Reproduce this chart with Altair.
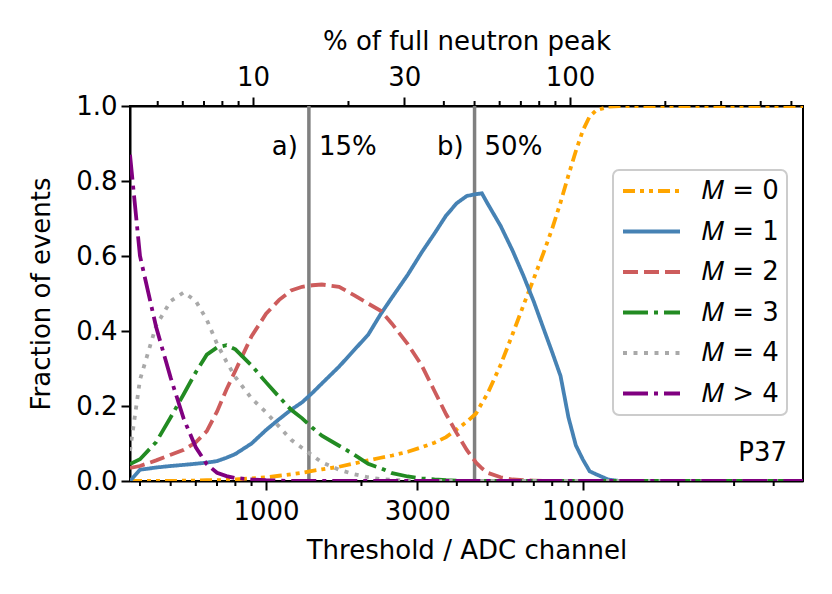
import altair as alt
import pandas as pd

# ---- data ----
adc = [372, 400, 450, 500, 550, 600, 650, 700, 750, 800,
       900, 1000, 1100, 1200, 1300, 1400, 1500, 1700, 1900, 2100,
       2300, 2500, 2800, 3100, 3400, 3700, 4000, 4300, 4600, 4800,
       5000, 5500, 6000, 6500, 7000, 7500, 8000, 8500, 9000, 9500,
       10000, 10500, 11000, 12000, 13000, 15000, 20000, 30000, 49500]

m0 = [0, 0, 0, 0, 0.001, 0.001, 0.002, 0.002, 0.003, 0.004,
      0.007, 0.010, 0.014, 0.018, 0.022, 0.027, 0.031, 0.038, 0.047, 0.055,
      0.062, 0.068, 0.078, 0.090, 0.102, 0.117, 0.138, 0.158, 0.18, 0.208,
      0.233, 0.31, 0.392, 0.47, 0.54, 0.607, 0.673, 0.743, 0.815, 0.88,
      0.935, 0.972, 0.988, 0.998, 1.0, 1.0, 1.0, 1.0, 1.0]

m1 = [0.0, 0.03, 0.036, 0.040, 0.043, 0.046, 0.049, 0.053, 0.062, 0.072,
      0.10, 0.136, 0.165, 0.19, 0.21, 0.235, 0.26, 0.305, 0.35, 0.39,
      0.445, 0.49, 0.55, 0.61, 0.66, 0.708, 0.741, 0.76, 0.765, 0.767,
      0.74, 0.68, 0.614, 0.546, 0.478, 0.408, 0.343, 0.28, 0.17, 0.095,
      0.057, 0.026, 0.018, 0.004, 0.0, 0.0, 0.0, 0.0, 0.0]

m2 = [0.035, 0.04, 0.055, 0.07, 0.083, 0.103, 0.133, 0.185, 0.244, 0.294,
      0.386, 0.446, 0.483, 0.508, 0.518, 0.522, 0.524, 0.518, 0.495, 0.473,
      0.454, 0.419, 0.365, 0.308, 0.24, 0.178, 0.127, 0.083, 0.049, 0.034,
      0.022, 0.01, 0.004, 0.002, 0.001, 0, 0, 0, 0, 0,
      0, 0, 0, 0, 0, 0, 0, 0, 0]

m3 = [0.045, 0.058, 0.104, 0.17, 0.232, 0.29, 0.337, 0.356, 0.362, 0.351,
      0.308, 0.263, 0.224, 0.19, 0.167, 0.142, 0.121, 0.094, 0.07, 0.046,
      0.034, 0.021, 0.012, 0.007, 0.004, 0.002, 0.001, 0, 0, 0,
      0, 0, 0, 0, 0, 0, 0, 0, 0, 0,
      0, 0, 0, 0, 0, 0, 0, 0, 0]

m4 = [0.08, 0.27, 0.415, 0.48, 0.503, 0.48, 0.43, 0.366, 0.318, 0.277,
      0.22, 0.183, 0.145, 0.11, 0.088, 0.068, 0.05, 0.03, 0.018, 0.01,
      0.005, 0.003, 0.001, 0, 0, 0, 0, 0, 0, 0,
      0, 0, 0, 0, 0, 0, 0, 0, 0, 0,
      0, 0, 0, 0, 0, 0, 0, 0, 0]

m5 = [0.87, 0.60, 0.41, 0.275, 0.165, 0.09, 0.045, 0.022, 0.013, 0.008,
      0.004, 0.002, 0.001, 0, 0, 0, 0, 0, 0, 0,
      0, 0, 0, 0, 0, 0, 0, 0, 0, 0,
      0, 0, 0, 0, 0, 0, 0, 0, 0, 0,
      0, 0, 0, 0, 0, 0, 0, 0, 0]

series_labels = ["\U0001D440 = 0", "\U0001D440 = 1", "\U0001D440 = 2",
                 "\U0001D440 = 3", "\U0001D440 = 4", "\U0001D440 > 4"]
series_values = [m0, m1, m2, m3, m4, m5]
colors = ["#ffa500", "#4682b4", "#cd5c5c", "#228b22", "#a9a9a9", "#800080"]
dashes = [[12, 5, 4, 5, 4, 5], [1, 0], [15, 6], [25, 6, 4, 6], [4, 6.5], [25, 6, 4, 6]]

full_peak_adc = 9100           # ADC channel of 100 % (full neutron peak)
thr_tags = ["a)", "b)"]
thr_pcts = [15, 50]

x_domain = [372, 49500]
bottom_major = [1000, 3000, 10000]
bottom_minor = [400, 500, 600, 700, 800, 900, 2000, 4000, 5000, 6000, 7000,
                8000, 9000, 20000, 30000, 40000]
top_major = [10, 30, 100]
top_minor = [5, 6, 7, 8, 9, 20, 40, 50, 60, 70, 80, 90, 200, 300, 400, 500]
y_ticks = [0.0, 0.2, 0.4, 0.6, 0.8, 1.0]
panel_label = "P37"

# ---- tables ----
rows = []
for lab, vals in zip(series_labels, series_values):
    for a, v in zip(adc, vals):
        rows.append({"adc": a, "frac": v, "series": lab})
df = pd.DataFrame(rows)

df_thr = pd.DataFrame({"tag": thr_tags,
                       "pct_label": [f"{p}%" for p in thr_pcts],
                       "adc": [p / 100 * full_peak_adc for p in thr_pcts]})
df_bminor = pd.DataFrame({"adc": bottom_minor})
df_tminor = pd.DataFrame({"pct": top_minor})
df_p = pd.DataFrame({"label": [panel_label], "adc": [x_domain[1]]})

FONT = "DejaVu Sans"
FS = 26
W, H = 673, 375

xs = alt.Scale(type="log", domain=x_domain, nice=False)
ys = alt.Scale(domain=[0, 1], nice=False)
pct_scale = alt.Scale(type="log", domain=[x_domain[0] * 100 / full_peak_adc,
                                          x_domain[1] * 100 / full_peak_adc], nice=False)

x_axis = alt.Axis(values=bottom_major, format="d", title="Threshold / ADC channel",
                  tickSize=9, labelPadding=8, titlePadding=13)
y_axis = alt.Axis(values=y_ticks, format=".1f", title="Fraction of events",
                  tickSize=9, labelPadding=4, titlePadding=21)

legend = alt.Legend(orient="none", legendX=483, legendY=64, title=None,
                    symbolType="stroke", symbolSize=3249, symbolStrokeWidth=3.8,
                    labelFont=FONT, labelFontSize=FS, labelColor="black",
                    labelOffset=20, padding=8, rowPadding=14.5, clipHeight=26,
                    strokeColor="#cccccc", fillColor="rgba(255,255,255,0.8)",
                    cornerRadius=6)

x_enc = alt.X("adc:Q", scale=xs, axis=x_axis)
y_text = alt.YDatum(0.89, scale=ys, axis=y_axis)

thr_rules = alt.Chart(df_thr).mark_rule(color="#808080", strokeWidth=3.5).encode(x=x_enc)

lines = alt.Chart(df).mark_line(strokeWidth=3.8, clip=True).encode(
    x=x_enc,
    y=alt.Y("frac:Q", scale=ys, axis=y_axis),
    color=alt.Color("series:N", scale=alt.Scale(domain=series_labels, range=colors), legend=legend),
    strokeDash=alt.StrokeDash("series:N", scale=alt.Scale(domain=series_labels, range=dashes),
                              legend=legend),
)

tag_text = alt.Chart(df_thr).mark_text(align="right", baseline="middle", dx=-11,
                                       font=FONT, fontSize=FS, color="black").encode(
    x=x_enc, y=y_text, text="tag:N")
pct_text = alt.Chart(df_thr).mark_text(align="left", baseline="middle", dx=10,
                                       font=FONT, fontSize=FS, color="black").encode(
    x=x_enc, y=y_text, text="pct_label:N")
p_text = alt.Chart(df_p).mark_text(align="right", baseline="middle", dx=-16,
                                   font=FONT, fontSize=FS, color="black").encode(
    x=x_enc, y=alt.YDatum(0.075, scale=ys, axis=y_axis), text="label:N")

bminor = alt.Chart(df_bminor).mark_rule(color="black", strokeWidth=2).encode(
    x=x_enc, y=alt.value(H), y2=alt.value(H + 5))

inner = alt.layer(thr_rules, lines, tag_text, pct_text, p_text, bminor)

top = alt.Chart(df_tminor).mark_rule(color="black", strokeWidth=2).encode(
    x=alt.X("pct:Q", scale=pct_scale,
            axis=alt.Axis(orient="top", values=top_major, format="d",
                          title="% of full neutron peak", tickSize=9,
                          labelPadding=7, titlePadding=10)),
    y=alt.value(0), y2=alt.value(-5))

chart = alt.layer(inner, top).resolve_scale(x="independent").properties(
    width=W, height=H,
    autosize=alt.AutoSizeParams(type="none"),
    padding={"left": 122, "top": 98, "right": 21, "bottom": 105},
).configure_axis(
    domainColor="black", domainWidth=2, tickColor="black", tickWidth=2,
    labelFont=FONT, labelFontSize=FS, labelColor="black",
    titleFont=FONT, titleFontSize=FS, titleFontWeight="normal", titleColor="black",
    grid=False,
).configure_view(stroke="black", strokeWidth=2).configure_legend(strokeWidth=2)

chart.save("out.html", embed_options={"renderer": "svg", "actions": False})
